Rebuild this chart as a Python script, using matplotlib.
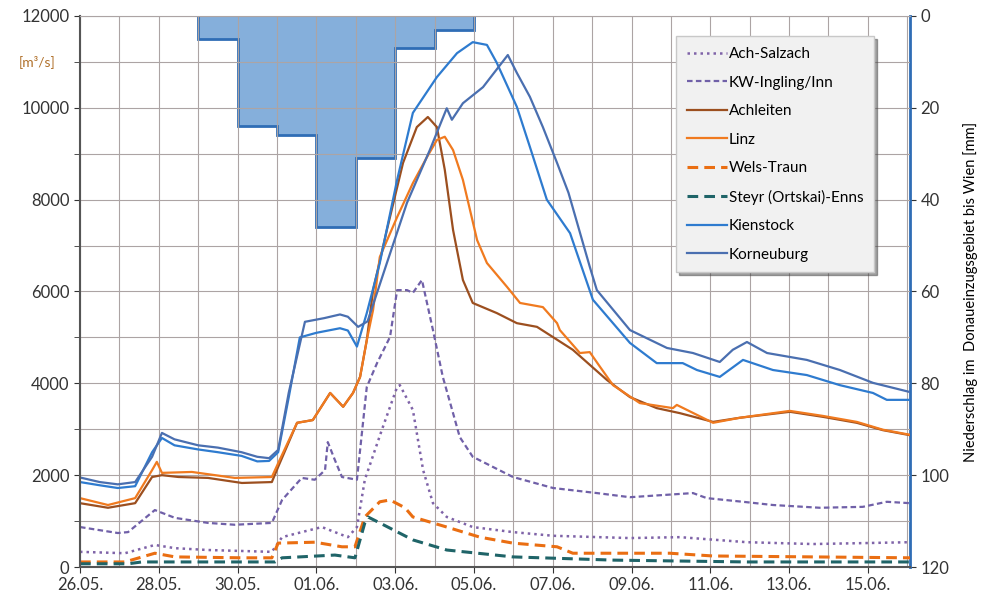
import numpy as np
import matplotlib.pyplot as plt

plt.rcParams['font.family'] = ['Lato', 'DejaVu Sans']

# time in days since 26.05. 00:00, discharge in m3/s
t_kien = [0.0, 0.5, 0.96, 1.4, 1.83, 2.08, 2.4, 3.0, 3.5, 4.1, 4.5, 4.8, 5.03, 5.3, 5.58, 6.0, 6.6, 6.8,
          7.03, 7.28, 7.61, 8.05, 8.45, 9.06, 9.57, 9.97, 10.33, 10.58, 11.09, 11.42, 11.85, 12.44, 13.02,
          13.96, 14.64, 15.3, 15.66, 16.24, 16.83, 17.59, 18.45, 19.29, 20.13, 20.48, 21.07]
q_kien = [1850, 1780, 1720, 1760, 2500, 2810, 2650, 2560, 2500, 2420, 2300, 2310, 2500, 3700, 5000, 5100, 5200, 5150,
          4800, 5530, 6620, 8430, 9890, 10670, 11190, 11430, 11370, 10980, 10020, 9150, 8000, 7270, 5820,
          4880, 4440, 4440, 4290, 4140, 4510, 4290, 4180, 3960, 3790, 3640, 3640]

t_korn = [0.0, 0.5, 0.96, 1.4, 1.83, 2.08, 2.4, 3.0, 3.5, 4.1, 4.5, 4.8, 5.03, 5.3, 5.71, 6.2, 6.6, 6.8,
          7.06, 7.3, 7.79, 8.3, 8.88, 9.31, 9.44, 9.72, 10.23, 10.86, 11.09, 11.42, 11.75, 12.11, 12.4,
          12.94, 13.12, 13.96, 14.9, 15.56, 16.24, 16.57, 16.93, 17.44, 18.45, 19.29, 20.13, 21.07]
q_korn = [1950, 1850, 1800, 1850, 2400, 2920, 2780, 2650, 2600, 2500, 2400, 2370, 2550, 3800, 5340, 5420, 5500, 5450,
          5230, 5350, 6620, 7930, 9080, 9990, 9740, 10100, 10450, 11150, 10760, 10240, 9580, 8800, 8150,
          6540, 6030, 5160, 4770, 4660, 4465, 4730, 4900, 4660, 4510, 4290, 4010, 3810]

t_achl = [0.0, 0.71, 1.4, 1.83, 2.08, 2.5, 3.25, 4.11, 4.87, 5.03, 5.51, 5.91, 6.35, 6.68, 6.93, 7.11, 7.28,
          7.44, 7.79, 8.2, 8.55, 8.83, 9.06, 9.26, 9.47, 9.72, 9.97, 10.58, 11.09, 11.6, 12.51, 13.38, 13.96,
          14.64, 15.23, 16.07, 16.75, 18.02, 18.86, 19.72, 20.38, 21.07]
q_achl = [1390, 1290, 1390, 1960, 2000, 1960, 1940, 1830, 1850, 2180, 3140, 3200, 3790, 3490, 3790, 4140, 4940,
          6030, 7340, 8800, 9580, 9800, 9580, 8650, 7340, 6250, 5750, 5530, 5310, 5230, 4730, 4070, 3700,
          3460, 3350, 3160, 3250, 3380, 3270, 3140, 2980, 2870]

t_linz = [0.0, 0.71, 1.4, 1.83, 1.95, 2.08, 2.84, 3.93, 4.87, 5.03, 5.51, 5.91, 6.35, 6.68, 6.93, 7.11, 7.28,
          7.44, 7.61, 8.05, 8.45, 8.81, 9.06, 9.26, 9.47, 9.72, 10.08, 10.33, 10.84, 11.17, 11.75, 12.11,
          12.18, 12.69, 12.94, 13.2, 13.53, 14.21, 15.05, 15.15, 16.07, 16.75, 18.02, 18.86, 19.72, 20.38, 21.07]
q_linz = [1500, 1350, 1500, 2110, 2290, 2050, 2070, 1940, 1960, 2260, 3140, 3200, 3790, 3490, 3790, 4140, 4940,
          5600, 6750, 7620, 8360, 8930, 9300, 9370, 9080, 8430, 7120, 6620, 6100, 5750, 5660, 5310,
          5160, 4660, 4680, 4360, 3960, 3570, 3460, 3530, 3140, 3250, 3400, 3290, 3160, 2990, 2880]

t_inn = [0.0, 0.96, 1.22, 1.9, 2.41, 3.25, 3.93, 4.87, 5.13, 5.63, 5.96, 6.22, 6.29, 6.47, 6.65, 7.03, 7.28,
         7.54, 7.87, 8.05, 8.3, 8.45, 8.68, 8.96, 9.21, 9.47, 9.64, 9.97, 10.48, 10.99, 12.01, 13.12, 13.96,
         15.56, 15.91, 16.83, 17.59, 18.78, 19.87, 20.48, 21.07]
q_inn = [870, 740, 760, 1240, 1070, 960, 920, 960, 1460, 1940, 1900, 2110, 2720, 2330, 1960, 1900, 3920,
         4440, 5010, 6030, 6030, 5970, 6250, 5160, 4140, 3350, 2830, 2400, 2180, 1960, 1720, 1610, 1520,
         1610, 1500, 1420, 1350, 1290, 1310, 1420, 1390]

t_salz = [0.0, 1.14, 1.9, 2.41, 3.25, 4.87, 5.13, 5.63, 6.14, 6.8, 7.03, 7.23, 7.66, 8.05, 8.12, 8.45, 8.71,
          8.96, 9.31, 9.97, 10.99, 12.01, 13.96, 15.23, 16.93, 18.6, 19.87, 21.07]
q_salz = [330, 300, 480, 410, 370, 330, 650, 760, 870, 650, 870, 1900, 2980, 3920, 3960, 3420, 2110,
          1390, 1090, 870, 760, 680, 630, 650, 540, 500, 520, 540]

t_wels = [0.0, 1.14, 1.9, 2.41, 4.11, 4.87, 5.03, 5.96, 6.65, 6.98, 7.23, 7.61, 7.87, 8.25, 8.45, 9.31, 10.15,
          10.99, 12.11, 12.51, 13.53, 14.97, 16.07, 18.6, 21.07]
q_wels = [110, 110, 300, 220, 200, 200, 520, 540, 440, 440, 1090, 1420, 1460, 1290, 1090, 870, 650,
          520, 440, 300, 300, 300, 240, 220, 200]

t_enns = [0.0, 1.22, 1.57, 4.95, 5.13, 6.47, 6.98, 7.23, 7.31, 7.61, 8.45, 9.31, 10.99, 13.53, 16.93, 21.07]
q_enns = [70, 70, 110, 110, 200, 260, 200, 960, 1090, 960, 590, 370, 220, 150, 110, 110]

# daily precipitation (mm), day edges
rain_edges = [3, 4, 5, 6, 7, 8, 9, 10]
rain_mm = [5, 24, 26, 46, 31, 7, 3]

date_ticks = [0, 2, 4, 6, 8, 10, 12, 14, 16, 18, 20]
date_labels = ["26.05.", "28.05.", "30.05.", "01.06.", "03.06.", "05.06.", "07.06.",
               "09.06.", "11.06.", "13.06.", "15.06."]

fig = plt.figure(figsize=(9.95, 6.03), dpi=100)
ax = fig.add_axes([0.0804, 0.0597, 0.8342, 0.9138])
ax2 = ax.twinx()
ax.set_zorder(ax2.get_zorder() + 1)
ax.patch.set_visible(False)

# precipitation from the top
ax2.stairs(rain_mm, rain_edges, baseline=0, fill=True, color='#78a7d8', alpha=0.9, lw=0)
ax2.stairs(rain_mm, rain_edges, baseline=0, fill=False, color='#2f6db5', lw=2)
ax2.set_ylim(120, 0)
ax2.set_yticks(np.arange(0, 121, 20))
ax2.tick_params(axis='y', labelsize=12, colors='#333333', direction='out', length=4)
ax2.spines['right'].set_color('#2f6db5')
ax2.spines['right'].set_linewidth(2)
for s in ['left', 'top', 'bottom']:
    ax2.spines[s].set_visible(False)
ax2.set_ylabel("Niederschlag im  Donaueinzugsgebiet bis Wien [mm]", fontsize=10.5, labelpad=10)

gray = '#aca4a4'
ax.plot(t_salz, q_salz, color='#7f63a8', lw=1.8, ls=(0, (1, 1.6)), label='Ach-Salzach')
ax.plot(t_inn, q_inn, color='#7060a8', lw=1.6, ls=(0, (2.5, 1.5)), label='KW-Ingling/Inn')
ax.plot(t_achl, q_achl, color='#9c4f1f', lw=1.6, label='Achleiten')
ax.plot(t_linz, q_linz, color='#f07a1f', lw=1.6, label='Linz')
ax.plot(t_wels, q_wels, color='#ea6e12', lw=2.2, ls=(0, (3.5, 2)), label='Wels-Traun')
ax.plot(t_enns, q_enns, color='#1f6468', lw=2.2, ls=(0, (3.5, 2)), label='Steyr (Ortskai)-Enns')
ax.plot(t_kien, q_kien, color='#2e7bcf', lw=1.6, label='Kienstock')
ax.plot(t_korn, q_korn, color='#4a6fb0', lw=1.6, label='Korneuburg')

ax.set_xlim(0, 21.07)
ax.set_ylim(0, 12000)
ax.set_yticks(np.arange(0, 12001, 2000))
ax.set_yticks(np.arange(0, 12001, 1000), minor=True)
ax.set_xticks(date_ticks)
ax.set_xticklabels(date_labels)
ax.set_xticks(np.arange(0, 22, 1), minor=True)
ax.tick_params(axis='x', which='minor', length=0)
ax.tick_params(axis='both', which='major', labelsize=12, colors='#333333', direction='out', length=4)
ax.tick_params(axis='y', which='minor', direction='out', length=4, colors='#333333')
ax.grid(True, which='both', color=gray, lw=0.8)
ax.set_axisbelow(True)
ax.spines['right'].set_visible(False)
ax.spines['top'].set_color(gray)
ax.spines['left'].set_color('#555555')
ax.spines['left'].set_linewidth(1.5)
ax.spines['bottom'].set_color('#555555')
ax.spines['bottom'].set_linewidth(1.5)

ax.text(-0.03, 11000, "[m³/s]", transform=ax.get_yaxis_transform(), ha='right', va='center',
        fontsize=10, color='#b0702a')

leg = ax.legend(loc='upper right', bbox_to_anchor=(0.966, 0.977), fontsize=11, frameon=True,
                fancybox=False, shadow=True, handlelength=2.6, handletextpad=0.15,
                labelspacing=0.95, borderpad=0.7)
leg.get_frame().set_facecolor('#f1f1f1')
leg.get_frame().set_edgecolor('#c8c8c8')
leg.get_frame().set_alpha(1)

fig.savefig('out.png', dpi=100)
